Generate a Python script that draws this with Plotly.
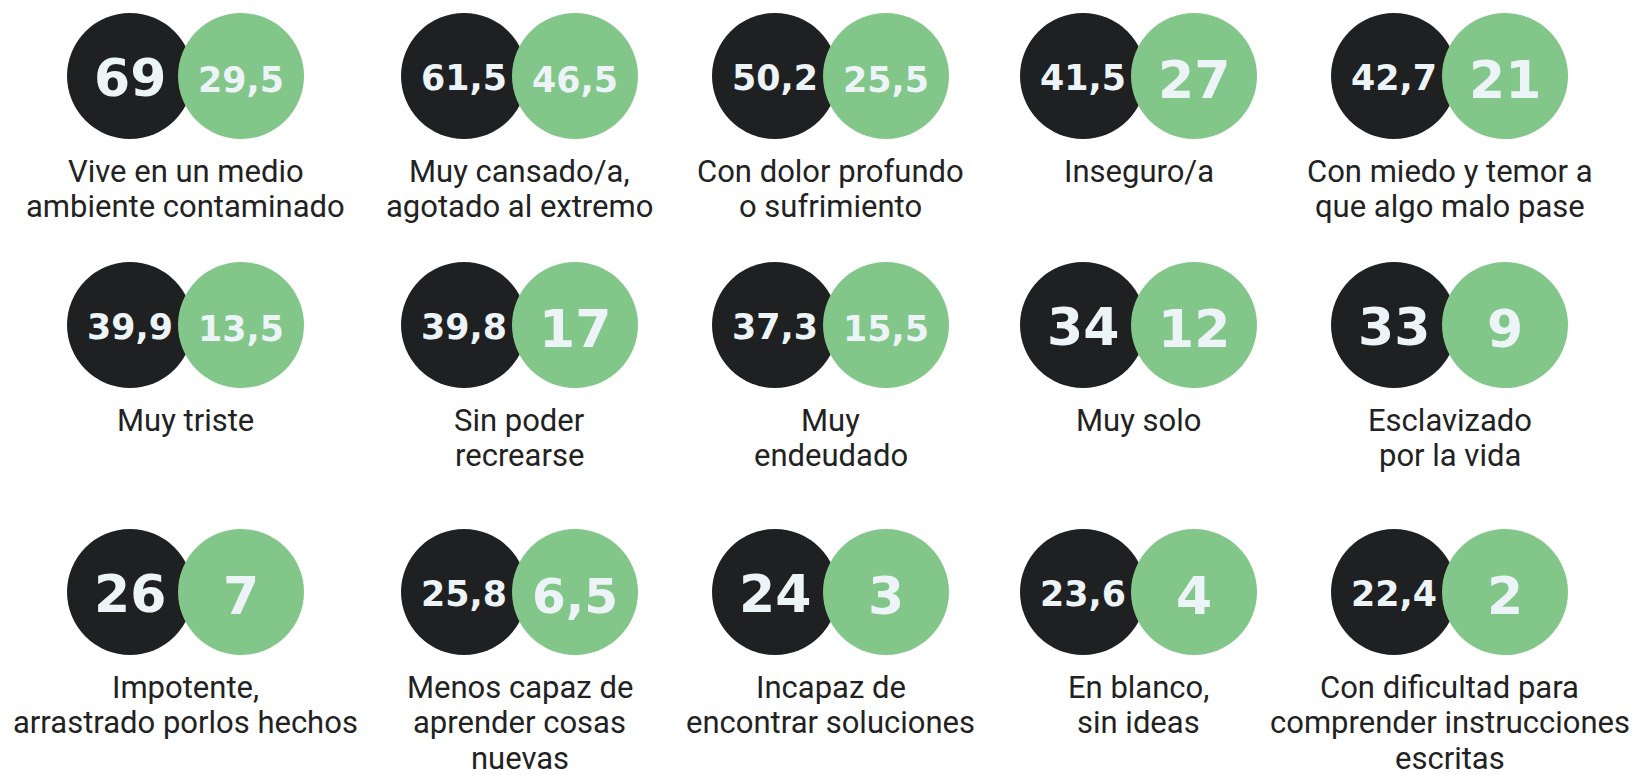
import plotly.graph_objects as go

# ---- data ----
labels = [
    "Vive en un medio<br>ambiente contaminado",
    "Muy cansado/a,<br>agotado al extremo",
    "Con dolor profundo<br>o sufrimiento",
    "Inseguro/a",
    "Con miedo y temor a<br>que algo malo pase",
    "Muy triste",
    "Sin poder<br>recrearse",
    "Muy<br>endeudado",
    "Muy solo",
    "Esclavizado<br>por la vida",
    "Impotente,<br>arrastrado porlos hechos",
    "Menos capaz de<br>aprender cosas<br>nuevas",
    "Incapaz de<br>encontrar soluciones",
    "En blanco,<br>sin ideas",
    "Con dificultad para<br>comprender instrucciones<br>escritas",
]
dark_values = ["69", "61,5", "50,2", "41,5", "42,7",
               "39,9", "39,8", "37,3", "34", "33",
               "26", "25,8", "24", "23,6", "22,4"]
green_values = ["29,5", "46,5", "25,5", "27", "21",
                "13,5", "17", "15,5", "12", "9",
                "7", "6,5", "3", "4", "2"]

# ---- layout constants (page pixel coordinates) ----
PAGE_W, PAGE_H = 1648, 775
OFF = 8  # default body margin of the html page
COL_X = [130, 464, 775, 1083, 1394]
ROW_Y = [76, 325, 592]
R = 63
DX = 111
DARK = "#1F2022"
GREEN = "#82C68A"
NUM_COLOR = "#EDF4F7"
LABEL_COLOR = "#222222"


def num_size(s):
    em = sum(0.38 if c == "," else 0.696 for c in s)
    return min(52, 86 / em)


xs_d, ys_d, xs_g, ys_g = [], [], [], []
annotations = []
for i, lab in enumerate(labels):
    cx = COL_X[i % 5]
    cy = ROW_Y[i // 5]
    xs_d.append(cx)
    ys_d.append(cy)
    xs_g.append(cx + DX)
    ys_g.append(cy)
    for x, txt, dy in ((cx, dark_values[i], 2), (cx + DX, green_values[i], 4)):
        annotations.append(dict(
            x=x, y=cy + dy, xref="x", yref="y", text=txt, showarrow=False,
            xanchor="center", yanchor="middle",
            font=dict(family="DejaVu Sans", size=num_size(txt), color=NUM_COLOR, weight="bold"),
        ))
    for j, line in enumerate(lab.split("<br>")):
        annotations.append(dict(
            x=cx + DX / 2, y=cy + 95 + j * 35.5, xref="x", yref="y", text=line,
            showarrow=False, xanchor="center", yanchor="middle",
            font=dict(family="Roboto", size=31, color=LABEL_COLOR),
        ))

fig = go.Figure()
fig.add_trace(go.Scatter(x=xs_d, y=ys_d, mode="markers",
                         marker=dict(size=2 * R, color=DARK, line=dict(width=0)),
                         hoverinfo="skip"))
fig.add_trace(go.Scatter(x=xs_g, y=ys_g, mode="markers",
                         marker=dict(size=2 * R, color=GREEN, line=dict(width=0)),
                         hoverinfo="skip"))

fig.update_layout(
    width=PAGE_W - OFF, height=PAGE_H - OFF, margin=dict(l=0, r=0, t=0, b=0),
    paper_bgcolor="white", plot_bgcolor="white", showlegend=False,
    xaxis=dict(range=[OFF, PAGE_W], visible=False, fixedrange=True),
    yaxis=dict(range=[PAGE_H, OFF], visible=False, fixedrange=True),
    annotations=annotations,
)
fig.write_html("out.html", config={"displayModeBar": False})
